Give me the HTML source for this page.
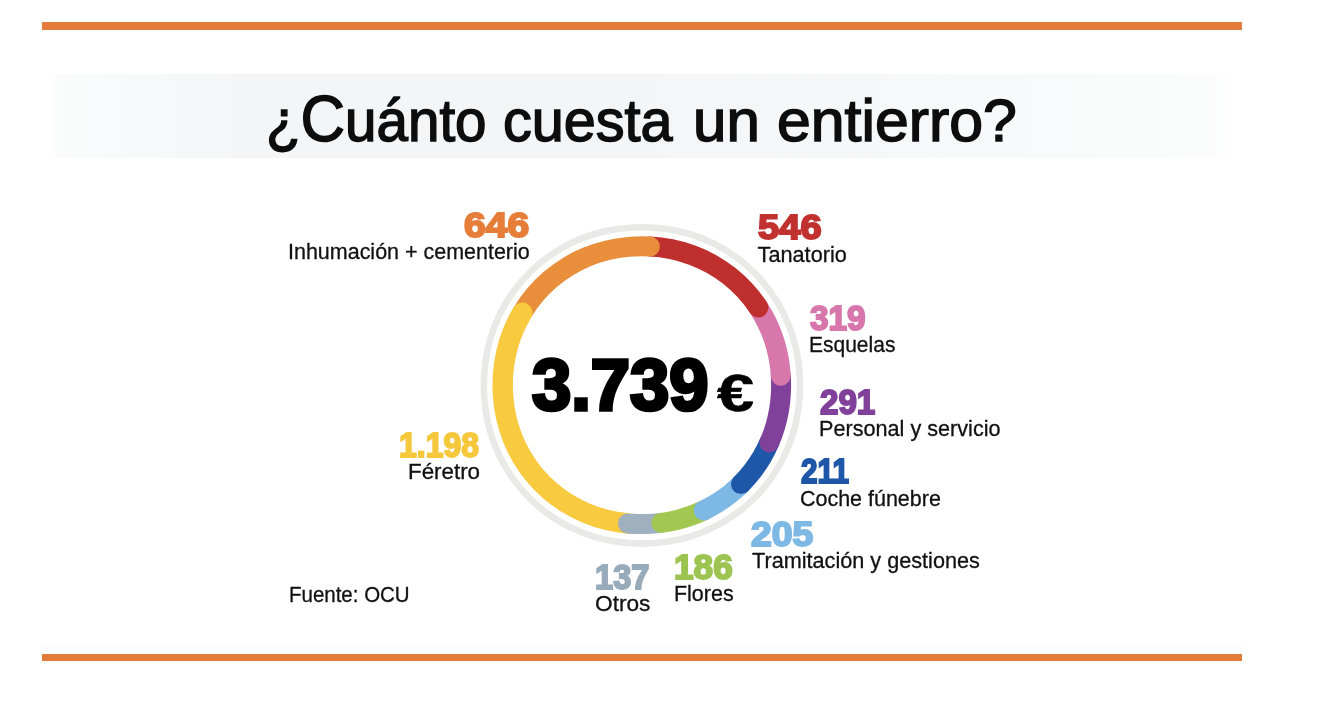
<!DOCTYPE html>
<html lang="es">
<head>
<meta charset="utf-8">
<title>¿Cuánto cuesta un entierro?</title>
<style>
html,body{margin:0;padding:0;background:#fff;}
body{width:1320px;height:704px;position:relative;overflow:hidden;font-family:"Liberation Sans",sans-serif;color:#111;}
.bar{position:absolute;left:42px;width:1200px;height:8px;background:#e37c3a;}
.bar.top{top:22px;}
.bar.bot{top:653.6px;height:7.8px;}
.haze{position:absolute;left:42px;top:644.5px;width:1200px;height:9px;background:#fbfcfd;}
.band{position:absolute;left:48px;top:73.6px;width:1184px;height:84.3px;
 background:linear-gradient(90deg,rgba(244,245,247,0) 0,rgba(244,245,247,.35) 1%,rgba(244,245,247,.6) 8%,#f4f5f7 16%,#f4f5f7 50%,#f5f6f8 58%,rgba(246,247,248,.6) 88%,rgba(246,247,248,.3) 99%,rgba(246,247,248,0) 100%);}
h1{margin:0;font-weight:400;-webkit-text-stroke:1.5px #0d0d0d;font-size:59.5px;line-height:1;color:#0d0d0d;}
h1 span{position:absolute;white-space:nowrap;transform-origin:0 0;}
h1 b{font-weight:400;font-size:1.09em;line-height:0;}
.lb{position:absolute;white-space:nowrap;font-size:21.7px;line-height:1;transform-origin:0 0;color:#111;-webkit-text-stroke:0.3px #111;}
.nm{position:absolute;white-space:nowrap;font-weight:700;line-height:1;transform-origin:0 0;}
svg{position:absolute;left:0;top:0;}
</style>
</head>
<body>
<div class="bar top"></div>
<div class="band"></div>
<h1><span id="t1" style="left:265.76px;top:91.23px;transform:scaleX(0.9504)">¿<b>C</b>uánto</span> <span id="t2" style="left:503.08px;top:91.23px;transform:scaleX(0.9674)">cuesta</span> <span id="t3" style="left:693.18px;top:91.23px;transform:scaleX(1.0091)">un</span> <span id="t4" style="left:776.66px;top:91.23px;transform:scaleX(1.0215)">entierro?</span></h1>
<svg width="1320" height="704" viewBox="0 0 1320 704">
<g fill="none" stroke-width="20.0" stroke-linecap="round" stroke-linejoin="round">
<path d="M641.90,227.20C650.18,227.20 658.46,227.77 666.66,228.98 674.86,230.18 682.97,232.02 690.90,234.48 698.83,236.95 706.58,240.04 714.03,243.74 721.49,247.44 728.65,251.74 735.42,256.60 742.19,261.46 748.56,266.88 754.46,272.77 760.35,278.67 765.76,285.05 770.62,291.82 775.47,298.60 779.77,305.76 783.47,313.22 787.17,320.68 790.26,328.43 792.72,336.36 795.18,344.30 797.02,352.42 798.22,360.62 799.43,368.83 800.00,377.12 800.00,385.40 800.00,393.68 799.43,401.97 798.22,410.18 797.02,418.38 795.18,426.50 792.72,434.44 790.26,442.37 787.17,450.12 783.47,457.58 779.77,465.04 775.47,472.20 770.62,478.98 765.76,485.75 760.35,492.13 754.46,498.03 748.56,503.92 742.19,509.34 735.42,514.20 728.65,519.06 721.49,523.36 714.03,527.06 706.58,530.76 698.83,533.85 690.90,536.32 682.97,538.78 674.86,540.62 666.66,541.82 658.46,543.03 650.18,543.60 641.90,543.60 633.62,543.60 625.34,543.03 617.14,541.82 608.94,540.62 600.83,538.78 592.90,536.32 584.97,533.85 577.22,530.76 569.77,527.06 562.31,523.36 555.15,519.06 548.38,514.20 541.61,509.34 535.24,503.92 529.34,498.03 523.45,492.13 518.04,485.75 513.18,478.98 508.33,472.20 504.03,465.04 500.33,457.58 496.63,450.12 493.54,442.37 491.08,434.44 488.62,426.50 486.78,418.38 485.58,410.18 484.37,401.97 483.80,393.68 483.80,385.40 483.80,377.12 484.37,368.83 485.58,360.62 486.78,352.42 488.62,344.30 491.08,336.36 493.54,328.43 496.63,320.68 500.33,313.22 504.03,305.76 508.33,298.60 513.18,291.82 518.04,285.05 523.45,278.67 529.34,272.77 535.24,266.88 541.61,261.46 548.38,256.60 555.15,251.74 562.31,247.44 569.77,243.74 577.22,240.04 584.97,236.95 592.90,234.48 600.83,232.02 608.94,230.18 617.14,228.98 625.34,227.77 633.62,227.20 641.90,227.20Z" stroke="#e9eae7" stroke-width="6.6"/>
<path d="M661.41,522.86C656.53,523.49 651.62,523.88 646.71,524.03 641.79,524.18 636.87,524.10 631.96,523.79" stroke="#9fb0bf" stroke-linecap="butt"/>
<path d="M703.79,510.37C699.33,512.50 694.77,514.39 690.11,516.03 685.46,517.67 680.73,519.06 675.93,520.20 671.14,521.33 666.29,522.22 661.41,522.86" stroke="#a3c852"/>
<path d="M741.00,484.09C737.40,487.68 733.59,491.07 729.61,494.24 725.62,497.40 721.46,500.34 717.15,503.03 712.83,505.72 708.37,508.17 703.79,510.37" stroke="#7db9e4"/>
<path d="M769.44,442.36C767.19,447.52 764.62,452.55 761.74,457.41 758.86,462.26 755.68,466.94 752.21,471.40 748.75,475.86 745.00,480.10 741.00,484.09" stroke="#1f57a8"/>
<path d="M780.81,375.67C781.16,381.34 781.20,387.03 780.92,392.71 780.65,398.38 780.05,404.04 779.11,409.66 778.17,415.27 776.90,420.83 775.29,426.29 773.67,431.76 771.72,437.13 769.44,442.36" stroke="#80419a"/>
<path d="M758.35,307.57C761.68,312.64 764.68,317.92 767.30,323.38 769.93,328.83 772.19,334.46 774.07,340.20 775.95,345.95 777.45,351.81 778.58,357.74 779.70,363.67 780.44,369.66 780.81,375.67" stroke="#d877ac"/>
<path d="M649.88,246.50C657.02,246.86 664.14,247.74 671.16,249.16 678.18,250.57 685.10,252.52 691.83,254.99 698.57,257.47 705.12,260.47 711.39,263.97 717.67,267.47 723.67,271.47 729.31,275.93 734.95,280.38 740.24,285.29 745.10,290.59 749.96,295.89 754.40,301.57 758.35,307.57" stroke="#be2f2e"/>
<path d="M522.26,312.66C525.95,306.47 530.14,300.58 534.78,295.05 539.42,289.53 544.50,284.38 549.96,279.67 555.42,274.96 561.27,270.68 567.41,266.90 573.55,263.12 579.99,259.84 586.64,257.08 593.29,254.31 600.15,252.08 607.13,250.38 614.12,248.68 621.23,247.52 628.37,246.89 635.52,246.25 642.71,246.13 649.88,246.50" stroke="#e98f3b"/>
<path d="M627.97,523.48C620.80,522.82 613.67,521.63 606.67,519.91 599.66,518.18 592.79,515.91 586.12,513.11 579.46,510.31 573.01,506.98 566.87,503.16 560.72,499.34 554.88,495.02 549.42,490.27 543.97,485.51 538.89,480.31 534.27,474.74 529.65,469.17 525.49,463.23 521.82,457.00 518.16,450.77 514.99,444.25 512.37,437.54 509.74,430.82 507.64,423.90 506.09,416.87 504.53,409.85 503.52,402.71 503.04,395.54 502.56,388.37 502.58,381.17 503.10,374.01 503.63,366.84 504.68,359.71 506.28,352.69 507.87,345.67 510.01,338.76 512.68,332.06 515.35,325.36 518.56,318.86 522.26,312.66" stroke="#f7ca3f" stroke-width="20.4"/>
<path d="M632.96,523.85C631.30,523.75 629.63,523.63 627.97,523.48" stroke="#9fb0bf"/>
</g>
</svg>
<div class="nm" id="n646" style="left:463.53px;top:206.64px;font-size:33.71px;color:#e67e3a;-webkit-text-stroke:1.9px #e67e3a;transform:scale(1.1592,1.0550)">646</div>
<div class="nm" id="n546" style="left:758.08px;top:208.92px;font-size:34.48px;color:#c0312f;-webkit-text-stroke:1.9px #c0312f;transform:scale(1.1065,1.0404)">546</div>
<div class="nm" id="n319" style="left:810.15px;top:301.49px;font-size:33.56px;color:#d877ac;-webkit-text-stroke:1.9px #d877ac;transform:scale(0.9925,1.0425)">319</div>
<div class="nm" id="n291" style="left:820.48px;top:384.83px;font-size:34.6px;color:#80419a;-webkit-text-stroke:1.9px #80419a;transform:scale(0.9586,1.0069)">291</div>
<div class="nm" id="n211" style="left:801.45px;top:453.81px;font-size:34.2px;color:#1f57a8;-webkit-text-stroke:1.9px #1f57a8;transform:scale(0.8693,1.0154)">211</div>
<div class="nm" id="n205" style="left:750.99px;top:517.01px;font-size:33.22px;color:#7db9e4;-webkit-text-stroke:1.9px #7db9e4;transform:scale(1.1238,1.0314)">205</div>
<div class="nm" id="n186" style="left:673.83px;top:549.86px;font-size:33.76px;color:#9dc451;-webkit-text-stroke:1.9px #9dc451;transform:scale(1.0423,1.0260)">186</div>
<div class="nm" id="n137" style="left:595.38px;top:560.08px;font-size:34.69px;color:#98abba;-webkit-text-stroke:1.9px #98abba;transform:scale(0.9404,1.0046)">137</div>
<div class="nm" id="n1198" style="left:399.33px;top:427.59px;font-size:34.77px;color:#f5c83c;-webkit-text-stroke:1.9px #f5c83c;transform:scale(0.9190,1.0072)">1.198</div>
<div class="nm" id="n3739" style="left:532.45px;top:348.83px;font-size:71.19px;color:#000;-webkit-text-stroke:3.6px #000;transform:scale(0.9910,1.0235)">3.739</div>
<div class="nm" id="euro" style="left:717.05px;top:367.26px;font-size:53.81px;color:#000;-webkit-text-stroke:0.6px #000;transform:scale(1.2385,0.9750)">€</div>
<div class="lb" id="l_inh" style="left:288.04px;top:240.75px;transform:scaleX(0.9902)">Inhumación + cementerio</div>
<div class="lb" id="l_tan" style="left:757.59px;top:244.36px;transform:scaleX(1.0000)">Tanatorio</div>
<div class="lb" id="l_esq" style="left:809.08px;top:334.36px;transform:scaleX(0.9682)">Esquelas</div>
<div class="lb" id="l_per" style="left:818.94px;top:417.75px;transform:scaleX(0.9975)">Personal y servicio</div>
<div class="lb" id="l_coc" style="left:800.05px;top:488.16px;transform:scaleX(0.9898)">Coche fúnebre</div>
<div class="lb" id="l_tra" style="left:752.23px;top:550.35px;transform:scaleX(0.9985)">Tramitación y gestiones</div>
<div class="lb" id="l_flo" style="left:673.66px;top:583.35px;transform:scaleX(0.9894)">Flores</div>
<div class="lb" id="l_otr" style="left:594.87px;top:592.85px;transform:scaleX(1.0451)">Otros</div>
<div class="lb" id="l_fer" style="left:408.15px;top:461.16px;transform:scaleX(1.0308)">Féretro</div>
<div class="lb" id="l_fue" style="left:289.20px;top:584.45px;transform:scaleX(0.9443)">Fuente: OCU</div>
<div class="haze"></div>
<div class="bar bot"></div>
</body>
</html>
